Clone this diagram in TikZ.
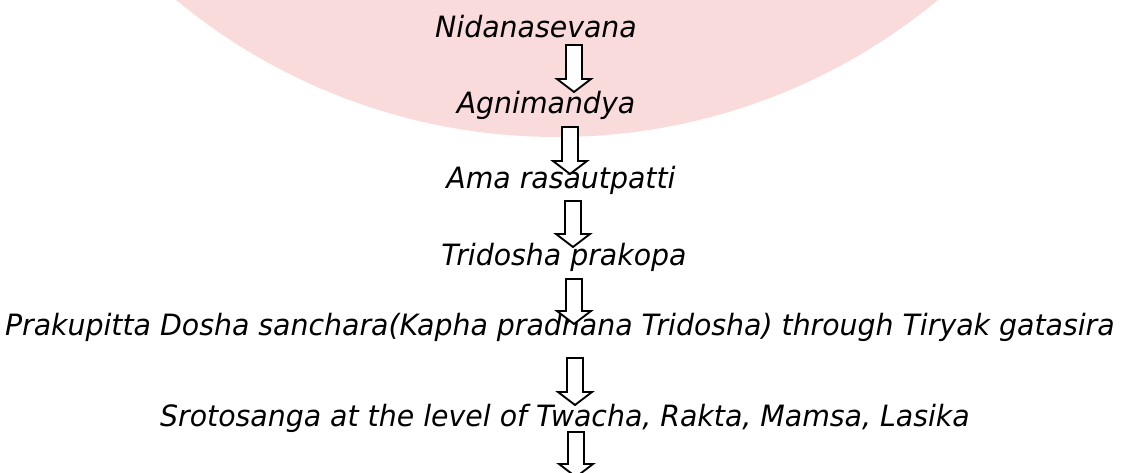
\documentclass[tikz,border=0pt]{standalone}
\usepackage{fontspec}
\setmainfont{DejaVu Sans Condensed}[FakeStretch=1.075]
\usetikzlibrary{calc}
\definecolor{wmpink}{RGB}{250,219,219}
\newcommand\blockarr[2]{%
  \draw[arrowbox] ($(#1)+(-8,0)$) -- ($(#1)+(8,0)$) -- ($(#2)+(8,-13)$) -- ($(#2)+(17,-13)$)
    -- (#2) -- ($(#2)+(-17,-13)$) -- ($(#2)+(-8,-13)$) -- cycle;}
\begin{document}
\begin{tikzpicture}[x=0.75pt,y=-0.75pt,
  lbl/.style={anchor=base,inner sep=0pt,font=\fontsize{22pt}{26pt}\selectfont\itshape},
  arrowbox/.style={draw=black,fill=white,line width=1.4pt,line join=miter}]
\useasboundingbox (0,0) rectangle (1122,473);
\begin{scope}
\clip (0,0) rectangle (1122,473);
\fill[wmpink] (557,-461) circle[radius=598];
\end{scope}
\node[lbl] (t1) at (536,38) {Nidanasevana};
\node[lbl] (t2) at (546,114) {Agnimandya};
\node[lbl] (t3) at (561,189) {Ama rasautpatti};
\node[lbl] (t4) at (564,266) {Tridosha prakopa};
\node[lbl] (t5) at (560,336) {Prakupitta Dosha sanchara(Kapha pradhana Tridosha) through Tiryak gatasira};
\node[lbl] (t6) at (565,427) {Srotosanga at the level of Twacha, Rakta, Mamsa, Lasika};
\coordinate (a1s) at (574,45);  \coordinate (a1e) at (574,92);
\coordinate (a2s) at (570,127); \coordinate (a2e) at (570,174);
\coordinate (a3s) at (573,201); \coordinate (a3e) at (573,247);
\coordinate (a4s) at (574,279); \coordinate (a4e) at (574,324);
\coordinate (a5s) at (575,358); \coordinate (a5e) at (575,405);
\coordinate (a6s) at (576,432); \coordinate (a6e) at (576,477);
\begin{scope}
\clip (0,0) rectangle (1122,473);
\blockarr{a1s}{a1e}
\blockarr{a2s}{a2e}
\blockarr{a3s}{a3e}
\blockarr{a4s}{a4e}
\blockarr{a5s}{a5e}
\blockarr{a6s}{a6e}
\end{scope}
\end{tikzpicture}
\end{document}
